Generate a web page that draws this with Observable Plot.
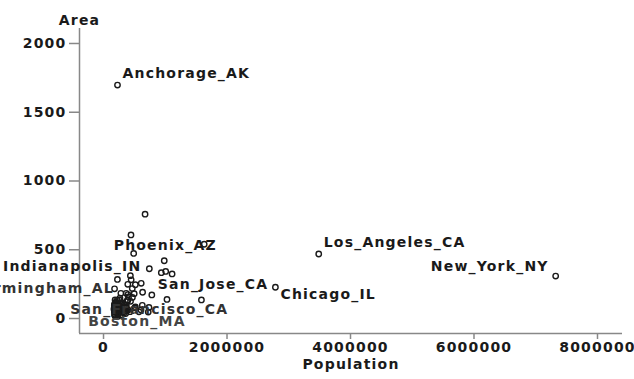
<!DOCTYPE html>
<html>
<head>
<meta charset="utf-8">
<script src="https://cdn.jsdelivr.net/npm/d3@7"></script>
<script src="https://cdn.jsdelivr.net/npm/@observablehq/plot@0.6"></script>
<style>
  html, body { margin: 0; padding: 0; background: #fff; }
  #chart svg { display: block; }
</style>
</head>
<body>
<div id="chart"></div>
<script>
const cities = ["New_York_NY","Los_Angeles_CA","Chicago_IL","Houston_TX","Philadelphia_PA","San_Diego_CA","Detroit_MI","Dallas_TX","Phoenix_AZ","San_Antonio_TX","San_Jose_CA","Baltimore_MD","Indianapolis_IN","San_Francisco_CA","Jacksonville_FL","Columbus_OH","Milwaukee_WI","Memphis_TN","Washington_DC","Boston_MA","Seattle_WA","El_Paso_TX","Cleveland_OH","New_Orleans_LA","Nashville_TN","Denver_CO","Austin_TX","Fort_Worth_TX","Oklahoma_City_OK","Portland_OR","Kansas_City_MO","Long_Beach_CA","Tucson_AZ","St_Louis_MO","Charlotte_NC","Atlanta_GA","Virginia_Beach_VA","Albuquerque_NM","Oakland_CA","Pittsburgh_PA","Sacramento_CA","Minneapolis_MN","Tulsa_OK","Honolulu_HI","Cincinnati_OH","Miami_FL","Fresno_CA","Omaha_NE","Toledo_OH","Buffalo_NY","Wichita_KS","Santa_Ana_CA","Mesa_AZ","Colorado_Springs_CO","Tampa_FL","Newark_NJ","St_Paul_MN","Louisville_KY","Anaheim_CA","Birmingham_AL","Arlington_TX","Norfolk_VA","Las_Vegas_NV","Corpus_Christi_TX","St_Petersburg_FL","Rochester_NY","Jersey_City_NJ","Riverside_CA","Anchorage_AK","Lexington_KY","Akron_OH","Aurora_CO","Baton_Rouge_LA","Stockton_CA","Raleigh_NC","Richmond_VA","Shreveport_LA","Jackson_MS","Mobile_AL","Des_Moines_IA","Lincoln_NE","Madison_WI","Grand_Rapids_MI","Yonkers_NY","Hialeah_FL","Montgomery_AL","Lubbock_TX","Greensboro_NC","Dayton_OH","Huntington_Beach_CA","Garland_TX","Glendale_CA","Columbus_GA","Spokane_WA","Tacoma_WA","Little_Rock_AR","Bakersfield_CA","Fremont_CA","Fort_Wayne_IN","Newport_News_VA"];

const population = [7322564,3485398,2783726,1630553,1585577,1110549,1027974,1006877,983403,935933,782248,736014,741952,723959,672971,632910,628088,610337,606900,574283,516259,515342,505616,496938,488374,467610,465622,447619,444719,437319,435146,429433,405390,396685,395934,394017,393069,384736,372242,369879,369365,368383,367302,365272,364040,358548,354202,335795,332943,328123,304011,293742,288091,281140,280015,275221,272235,269063,266406,265968,261721,261229,258295,257453,238629,231636,228537,226505,226338,225366,223019,222103,219531,210943,207951,203056,198525,196637,196278,193187,191972,191262,189126,188082,188004,187106,186206,183521,182044,181519,180650,180038,178681,177196,176664,175795,174820,173339,173072,170045];

const area = [308.9,469.3,227.2,539.9,135.1,324.4,138.7,342.4,419.9,333.0,171.3,80.8,361.7,46.7,758.7,190.9,96.1,256.0,61.4,48.4,83.9,245.4,77.0,180.6,473.3,153.3,217.8,281.1,608.2,124.7,311.5,50.0,156.3,61.9,174.3,131.8,248.3,132.2,56.1,55.6,96.3,54.9,183.5,83.0,77.2,35.6,99.1,100.6,80.6,40.6,114.8,27.2,108.6,183.2,108.7,23.8,52.8,62.1,44.3,148.5,93.0,53.8,83.3,135.0,59.2,35.8,14.9,77.7,1697.7,284.5,62.2,133.1,73.9,52.6,88.1,60.1,98.5,109.0,118.4,75.3,63.3,57.8,44.3,18.1,19.2,135.0,104.1,79.8,55.0,26.4,57.1,30.6,216.1,55.9,48.1,102.9,91.8,77.0,62.7,68.3];

const xTicks = [0, 2000000, 4000000, 6000000, 8000000];
const yTicks = [0, 500, 1000, 1500, 2000];
const xDomain = [-389000, 8405000];
const yDomain = [-109, 2109];

const labeled = ["Anchorage_AK","Phoenix_AZ","Indianapolis_IN","Birmingham_AL","San_Francisco_CA","Boston_MA","San_Jose_CA","Chicago_IL","Los_Angeles_CA","New_York_NY"];

const data = cities.map((c, i) => ({city: c, pop: population[i], area: area[i]}));

// label placement (style only)
const place = {
  "Anchorage_AK":     {anchor: "start",  dx: 5,  dy: -12, fill: "#1a1a1a"},
  "Los_Angeles_CA":   {anchor: "start",  dx: 5,  dy: -11, fill: "#1a1a1a"},
  "San_Jose_CA":      {anchor: "start",  dx: 6,  dy: -10, fill: "#1a1a1a"},
  "Chicago_IL":       {anchor: "start",  dx: 5,  dy: 7,   fill: "#1a1a1a"},
  "New_York_NY":      {anchor: "end",    dx: -7, dy: -10, fill: "#1a1a1a"},
  "Indianapolis_IN":  {anchor: "end",    dx: -8, dy: -2,  fill: "#1a1a1a"},
  "Birmingham_AL":    {anchor: "end",    dx: -6, dy: -10, fill: "#333"},
  "Phoenix_AZ":       {anchor: "middle", dx: 1,  dy: -15, fill: "#1a1a1a"},
  "San_Francisco_CA": {anchor: "middle", dx: 1,  dy: -3,  fill: "#333"},
  "Boston_MA":        {anchor: "middle", dx: -2, dy: 10,  fill: "#444"}
};

const fontFamily = "'DejaVu Sans', sans-serif";
const fmt = d3.format("d");

const labelMarks = labeled.map(name => {
  const p = place[name];
  return Plot.text(data.filter(d => d.city === name), {
    x: "pop", y: "area", text: "city",
    textAnchor: p.anchor, dx: p.dx, dy: p.dy,
    fill: p.fill, fontSize: 14, fontWeight: "bold"
  });
});

const chart = Plot.plot({
  width: 634,
  height: 379,
  marginLeft: 79,
  marginRight: 12,
  marginTop: 28,
  marginBottom: 46,
  style: {fontFamily, fontSize: "14px", background: "#fff", color: "#1a1a1a"},
  x: {domain: xDomain, label: null},
  y: {domain: yDomain, label: null},
  marks: [
    Plot.axisX({ticks: xTicks, tickFormat: fmt, tickSize: 6, tickPadding: 3, stroke: "#888", fill: "#1a1a1a", fontWeight: "bold", fontSize: 14, label: null, strokeWidth: 1.5}),
    Plot.axisY({ticks: yTicks, tickFormat: () => "", tickSize: 10, stroke: "#888", label: null, strokeWidth: 1.5}),
    Plot.text(yTicks, {y: d => d, frameAnchor: "left", text: d => fmt(d), dx: -13, textAnchor: "end", fontSize: 14, fontWeight: "bold", fill: "#1a1a1a"}),
    Plot.ruleY([yDomain[0]], {stroke: "#888", strokeWidth: 1.5}),
    Plot.ruleX([xDomain[0]], {stroke: "#888", strokeWidth: 1.5}),
    Plot.dot(data, {x: "pop", y: "area", r: 2.7, stroke: "#1a1a1a", strokeWidth: 1.4, fill: "none"}),
    ...labelMarks,
    Plot.text(["Area"], {frameAnchor: "top-left", text: d => d, dy: -13, textAnchor: "middle", fontSize: 14, fontWeight: "bold", fill: "#1a1a1a"}),
    Plot.text(["Population"], {frameAnchor: "bottom", text: d => d, dy: 35, textAnchor: "middle", fontSize: 14, fontWeight: "bold", fill: "#1a1a1a"})
  ]
});

chart.querySelectorAll("text").forEach(t => {
  t.setAttribute("letter-spacing", "1.2");
  t.setAttribute("font-size", "14");
  t.setAttribute("font-weight", "bold");
  t.setAttribute("font-family", "DejaVu Sans, sans-serif");
});
document.getElementById("chart").appendChild(chart);
</script>
</body>
</html>
